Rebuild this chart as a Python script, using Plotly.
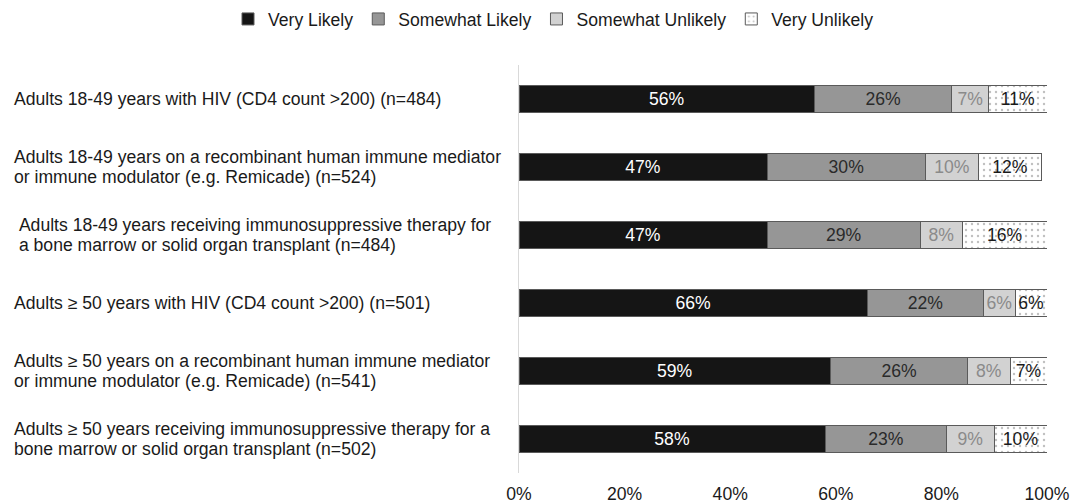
import plotly.graph_objects as go

categories = [
    "Adults 18-49 years with HIV (CD4 count >200) (n=484)",
    "Adults 18-49 years on a recombinant human immune mediator<br>or immune modulator (e.g. Remicade) (n=524)",
    " Adults 18-49 years receiving immunosuppressive therapy for<br> a bone marrow or solid organ transplant (n=484)",
    "Adults \u2265 50 years with HIV (CD4 count >200) (n=501)",
    "Adults \u2265 50 years on a recombinant human immune mediator<br>or immune modulator (e.g. Remicade) (n=541)",
    "Adults \u2265 50 years receiving immunosuppressive therapy for a<br>bone marrow or solid organ transplant (n=502)",
]
cat_ids = ["c1", "c2", "c3", "c4", "c5", "c6"]

series_names = ["Very Likely", "Somewhat Likely", "Somewhat Unlikely", "Very Unlikely"]
very_likely = [56, 47, 47, 66, 59, 58]
somewhat_likely = [26, 30, 29, 22, 26, 23]
somewhat_unlikely = [7, 10, 8, 6, 8, 9]
very_unlikely = [11, 12, 16, 6, 7, 10]

tick_vals = [0, 20, 40, 60, 80, 100]
tick_text = ["0%", "20%", "40%", "60%", "80%", "100%"]

values = [very_likely, somewhat_likely, somewhat_unlikely, very_unlikely]
fills = ["#151515", "#969696", "#d2d2d2", "#ffffff"]
text_colors = ["#ffffff", "#2a2a2a", "#8a8a8a", "#1a1a1a"]

FONT = "Liberation Sans, Arial, sans-serif"
FS = 17.6

fig = go.Figure()
for i, (name, vals) in enumerate(zip(series_names, values)):
    marker = dict(color=fills[i], line=dict(color="#5a5a5a", width=1))
    if i == 3:
        marker["pattern"] = dict(shape=".", size=6, solidity=0.12,
                                 fgcolor="#808080", bgcolor="#ffffff")
    fig.add_trace(go.Bar(
        name=name,
        y=cat_ids,
        x=vals,
        orientation="h",
        marker=marker,
        text=[f"{v}%" for v in vals],
        textposition="inside",
        insidetextanchor="middle",
        constraintext="none",
        textfont=dict(family=FONT, size=FS, color=text_colors[i]),
        hoverinfo="skip",
    ))

L, R, T, B = 519, 24, 65, 31
plot_w = 1071 - L - R
plot_h = 504 - T - B
LINE_H = 20

for cid, label in zip(cat_ids, categories):
    lines = label.split("<br>")
    n = len(lines)
    for k, line in enumerate(lines):
        fig.add_annotation(
            x=-(L - 12) / plot_w, xref="paper", xanchor="left",
            y=cid, yref="y", yanchor="middle",
            yshift=((n - 1) / 2 - k) * LINE_H,
            text=line.replace(" ", "&nbsp;", 1) if line.startswith(" ") else line,
            showarrow=False, align="left",
            font=dict(family=FONT, size=FS, color="#1a1a1a"),
        )

fig.update_layout(
    width=1071, height=504,
    margin=dict(l=L, r=R, t=T, b=B, pad=0, autoexpand=False),
    barmode="stack",
    bargap=0.59,
    plot_bgcolor="#ffffff",
    paper_bgcolor="#ffffff",
    font=dict(family=FONT, size=FS, color="#1a1a1a"),
    showlegend=True,
    legend=dict(orientation="h", xref="paper", yref="paper",
                x=(228 - L) / plot_w, xanchor="left",
                y=1 + (T - 19) / plot_h, yanchor="middle",
                font=dict(family=FONT, size=FS, color="#1a1a1a"),
                itemwidth=30, traceorder="normal"),
    xaxis=dict(range=[0, 100], tickvals=tick_vals, ticktext=tick_text,
               showgrid=False, zeroline=False, showline=False,
               ticks="outside", ticklen=5, tickcolor="rgba(0,0,0,0)",
               tickfont=dict(family=FONT, size=FS, color="#1a1a1a"),
               fixedrange=True),
    yaxis=dict(categoryorder="array", categoryarray=cat_ids,
               autorange="reversed", showticklabels=False,
               showgrid=False, zeroline=False,
               showline=True, linecolor="#d9d9d9", linewidth=1,
               ticks="", fixedrange=True),
)

fig.write_html("out.html")
